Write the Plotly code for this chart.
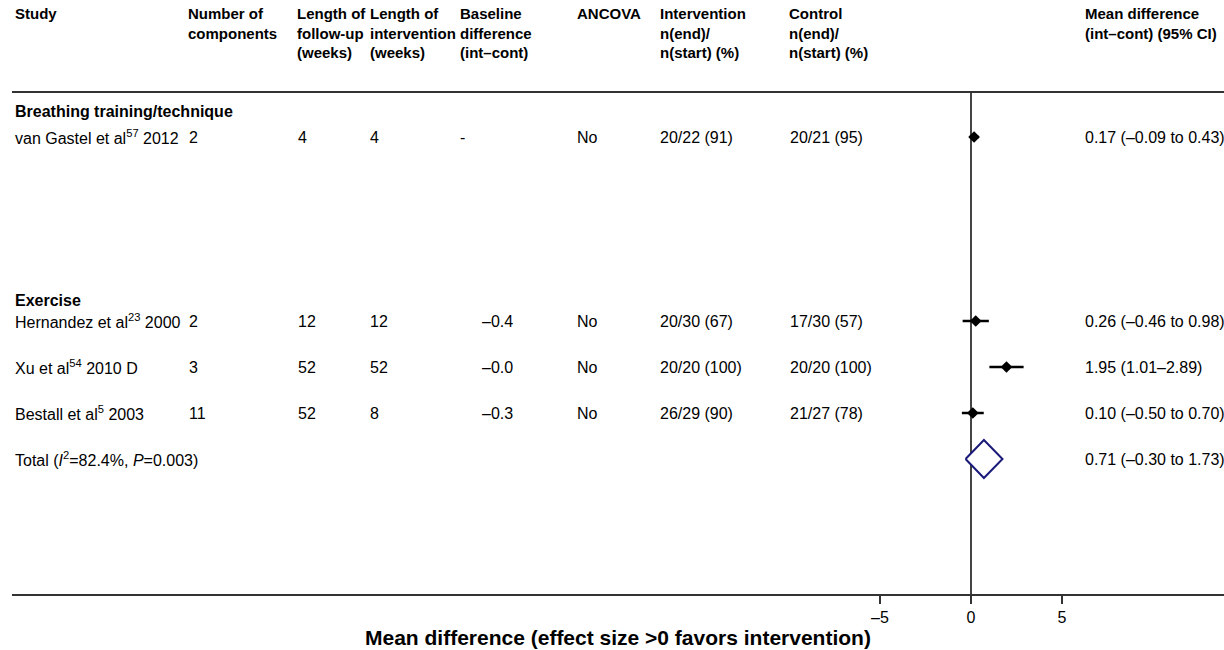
import plotly.graph_objects as go

# ---------------- data ----------------
studies = ["van Gastel et al<sup>57</sup> 2012", "Hernandez et al<sup>23</sup> 2000",
           "Xu et al<sup>54</sup> 2010 D", "Bestall et al<sup>5</sup> 2003"]
components = ["2", "2", "3", "11"]
followup_weeks = ["4", "12", "52", "52"]
intervention_weeks = ["4", "12", "52", "8"]
baseline_diff = ["-", "–0.4", "–0.0", "–0.3"]
ancova = ["No", "No", "No", "No"]
int_n = ["20/22 (91)", "20/30 (67)", "20/20 (100)", "26/29 (90)"]
ctl_n = ["20/21 (95)", "17/30 (57)", "20/20 (100)", "21/27 (78)"]
md = [0.17, 0.26, 1.95, 0.10]
md_lo = [-0.09, -0.46, 1.01, -0.50]
md_hi = [0.43, 0.98, 2.89, 0.70]
ci_text = ["0.17 (–0.09 to 0.43)", "0.26 (–0.46 to 0.98)", "1.95 (1.01–2.89)", "0.10 (–0.50 to 0.70)"]

total_label = "Total (<i>I</i><sup>2</sup>=82.4%, <i>P</i>=0.003)"
total_md, total_lo, total_hi = 0.71, -0.30, 1.73
total_text = "0.71 (–0.30 to 1.73)"

groups = ["Breathing training/technique", "Exercise"]
headers = ["Study", "Number of<br>components", "Length of<br>follow-up<br>(weeks)",
           "Length of<br>intervention<br>(weeks)", "Baseline<br>difference<br>(int–cont)",
           "ANCOVA", "Intervention<br>n(end)/<br>n(start) (%)", "Control<br>n(end)/<br>n(start) (%)",
           "Mean difference<br>(int–cont) (95% CI)"]
tick_vals = [-5, 0, 5]
tick_text = ["–5", "0", "5"]
axis_title = "Mean difference (effect size >0 favors intervention)"

# ---------------- layout helpers (pixel positions) ----------------
W, H = 1224, 650
L, R, T, B = 12, 0, 93, 56
PW = W - L - R
ZERO_PX, PX_PER_UNIT = 971, 18.2
ROW0_PX, ROW_PX = 137, 46
row_pos = [0, 4, 5, 6]
total_row = 7
group_pos = [-0.56, 3.55]
header_px = [13, 186, 295, 368, 458, 575, 658, 787, 1083]
value_px = [13, 187, 296, 368, 480, 575, 658, 788, 1083]
missing_px = 458


def px2paper(px):
    return (px - L) / PW


FONT = "Liberation Sans, Arial, sans-serif"
FS = 16
FS_HEAD = 15

fig = go.Figure()

# study estimates with CIs
fig.add_trace(go.Scatter(
    x=md, y=row_pos, mode="markers",
    marker=dict(symbol="diamond", size=9, color="black"),
    error_x=dict(type="data", symmetric=False,
                 array=[h - m for h, m in zip(md_hi, md)],
                 arrayminus=[m - l for m, l in zip(md, md_lo)],
                 color="black", thickness=2.5, width=0),
    showlegend=False, hoverinfo="skip"))

# pooled diamond
dh = 19 / ROW_PX
fig.add_trace(go.Scatter(
    x=[total_lo, total_md, total_hi, total_md, total_lo],
    y=[total_row, total_row - dh, total_row, total_row + dh, total_row],
    mode="lines", line=dict(color="#1a1a7a", width=2),
    fill="toself", fillcolor="white", showlegend=False, hoverinfo="skip"))

ann = []
# headers
for txt, px in zip(headers, header_px):
    ann.append(dict(text="<b>" + txt + "</b>", x=px2paper(px), xref="paper", xanchor="left",
                    y=1, yref="paper", yanchor="top", yshift=T - 3,
                    align="left", showarrow=False,
                    font=dict(size=FS_HEAD, color="black", family=FONT)))
# group headers
for g, yp in zip(groups, group_pos):
    ann.append(dict(text="<b>" + g + "</b>", x=px2paper(13), xref="paper", xanchor="left",
                    y=yp, yref="y", yanchor="middle", showarrow=False,
                    font=dict(size=FS, color="black", family=FONT)))
# study rows
cols = [studies, components, followup_weeks, intervention_weeks, baseline_diff,
        ancova, int_n, ctl_n, ci_text]
for col, px in zip(cols, value_px):
    for v, yp in zip(col, row_pos):
        xp = missing_px if v == "-" else px
        ann.append(dict(text=v, x=px2paper(xp), xref="paper", xanchor="left",
                        y=yp, yref="y", yanchor="middle", showarrow=False))
# total row
ann.append(dict(text=total_label, x=px2paper(13), xref="paper", xanchor="left",
                y=total_row, yref="y", yanchor="middle", showarrow=False))
ann.append(dict(text=total_text, x=px2paper(value_px[-1]), xref="paper", xanchor="left",
                y=total_row, yref="y", yanchor="middle", showarrow=False))
# axis title
ann.append(dict(text="<b>" + axis_title + "</b>", x=0.5, xref="paper", xanchor="center",
                y=0, yref="paper", yanchor="middle", yshift=-43, showarrow=False,
                font=dict(size=21, color="black", family=FONT)))

ytop = -(ROW0_PX - T) / ROW_PX
ybot = ytop + (H - B - T) / ROW_PX

fig.update_layout(
    width=W, height=H,
    margin=dict(l=L, r=R, t=T, b=B, pad=0),
    paper_bgcolor="white", plot_bgcolor="white",
    font=dict(family=FONT, size=FS, color="black"),
    annotations=ann,
    xaxis=dict(range=[(L - ZERO_PX) / PX_PER_UNIT, (W - R - ZERO_PX) / PX_PER_UNIT],
               tickvals=tick_vals, ticktext=tick_text,
               ticks="outside", ticklen=8, tickcolor="#333", tickwidth=1.5,
               showline=True, linecolor="#333", linewidth=2, mirror=True,
               showgrid=False, zeroline=True, zerolinecolor="#444", zerolinewidth=1.5,
               tickfont=dict(size=FS, color="black")),
    yaxis=dict(range=[ybot, ytop], showticklabels=False, showgrid=False,
               zeroline=False, showline=False),
)

fig.write_html("out.html", config={"displayModeBar": False},
               post_script="document.body.style.margin='0';")
